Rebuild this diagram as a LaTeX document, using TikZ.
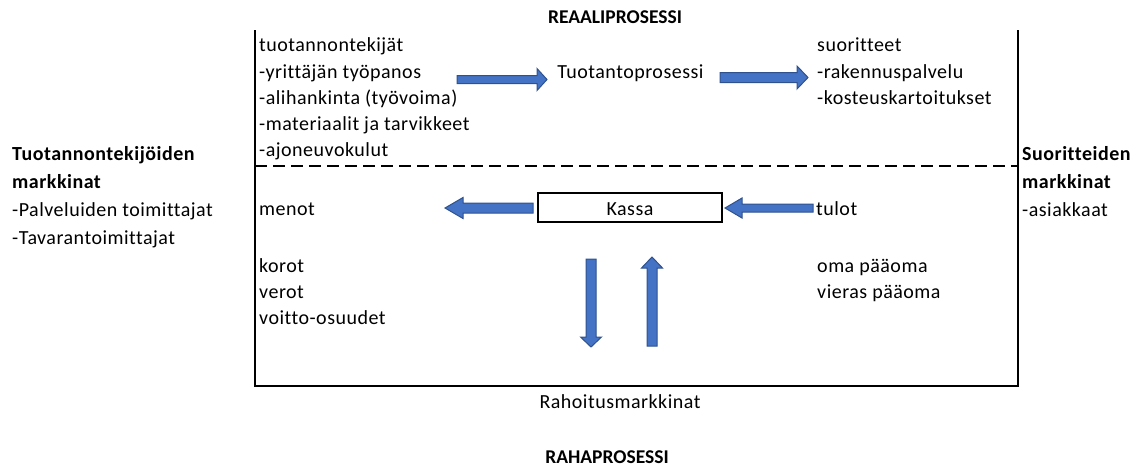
\documentclass[tikz,border=0pt]{standalone}
\usepackage{fontspec}
\setmainfont{Carlito}[LetterSpace=2.5, Ligatures={NoCommon,NoContextual}]
\newfontfamily\titlefont{Carlito}[Ligatures={NoCommon,NoContextual}]
\definecolor{arrowfill}{HTML}{4472C4}
\definecolor{arrowline}{HTML}{2F528F}
\begin{document}
\begin{tikzpicture}[x=1pt,y=-1pt,
  txt/.style={inner sep=0pt, anchor=base west, font=\fontsize{20}{24}\selectfont},
  ctxt/.style={inner sep=0pt, anchor=base, font=\fontsize{20}{24}\selectfont},
  btxt/.style={txt, font=\fontsize{20}{24}\selectfont\bfseries},
  bctxt/.style={ctxt, font=\titlefont\fontsize{19.5}{23}\selectfont\bfseries},
  blockarrow/.style={fill=arrowfill, draw=arrowline, line width=1pt, line join=miter},
  frameline/.style={line width=2pt},
  sepline/.style={line width=1.5pt, dash pattern=on 12pt off 6pt}]
\useasboundingbox (0,0) rectangle (1139,467);

% frame
\coordinate (tl) at (255,30);
\coordinate (bl) at (255,386);
\coordinate (br) at (1018,386);
\coordinate (tr) at (1018,30);
\draw[frameline] (tl) -- (bl) -- (br) -- (tr);
\coordinate (dl) at (255,166);
\coordinate (dr) at (1018,166);
\draw[sepline] (dl) -- (dr);

% titles
\node[bctxt] (reaali) at (615,23.5) {REAALIPROSESSI};
\node[bctxt] (raha) at (607,463.5) {RAHAPROSESSI};
\node[ctxt] (rahoitus) at (620,408) {Rahoitusmarkkinat};

% left column (real process)
\node[txt] (l1) at (259,51.7) {tuotannontekijät};
\node[txt] (l2) at (259,78) {-yrittäjän työpanos};
\node[txt] (l3) at (259,104.3) {-alihankinta (työvoima)};
\node[txt] (l4) at (259,130.6) {-materiaalit ja tarvikkeet};
\node[txt] (l5) at (259,156.9) {-ajoneuvokulut};

\node[ctxt] (prosessi) at (630.5,78) {Tuotantoprosessi};

\node[txt] (r1) at (817,51.7) {suoritteet};
\node[txt] (r2) at (817,78) {-rakennuspalvelu};
\node[txt] (r3) at (817,104.3) {-kosteuskartoitukset};

% markets
\node[btxt] (tm1) at (12,160) {Tuotannontekijöiden};
\node[btxt] (tm2) at (12,188) {markkinat};
\node[txt] (tm3) at (12,216) {-Palveluiden toimittajat};
\node[txt] (tm4) at (12,244) {-Tavarantoimittajat};

\node[btxt] (sm1) at (1022,160) {Suoritteiden};
\node[btxt] (sm2) at (1022,188) {markkinat};
\node[txt] (sm3) at (1022,216) {-asiakkaat};

% money process
\node[draw, line width=1.5pt, minimum width=184pt, minimum height=29pt, inner sep=0pt] (kassa) at (630,207.5) {};
\node[ctxt] (kassatxt) at (630,215) {Kassa};
\node[txt] (menot) at (259,215) {menot};
\node[txt] (tulot) at (816,215) {tulot};

\node[txt] (k1) at (259,272) {korot};
\node[txt] (k2) at (259,298.2) {verot};
\node[txt] (k3) at (259,324.4) {voitto-osuudet};

\node[txt] (o1) at (817,272) {oma pääoma};
\node[txt] (o2) at (817,298.2) {vieras pääoma};

% block arrows
% right arrow 1
\draw[blockarrow] (457,75.5) -- (537,75.5) -- (537,68.5) -- (547,79.5) -- (537,90.5) -- (537,83.5) -- (457,83.5) -- cycle;
% right arrow 2
\draw[blockarrow] (720,72.5) -- (797,72.5) -- (797,66) -- (808,77.5) -- (797,89) -- (797,82.5) -- (720,82.5) -- cycle;
% left arrow (menot)
\draw[blockarrow] (533,203) -- (463,203) -- (463,197.5) -- (445,208) -- (463,218.5) -- (463,213) -- (533,213) -- cycle;
% left arrow (tulot)
\draw[blockarrow] (813,204) -- (742,204) -- (742,198) -- (725,208) -- (742,218) -- (742,212) -- (813,212) -- cycle;
% down arrow
\draw[blockarrow] (586,259) -- (586,337) -- (580.5,337) -- (591,347) -- (601.5,337) -- (596,337) -- (596,259) -- cycle;
% up arrow
\draw[blockarrow] (647,346) -- (647,268) -- (641.5,268) -- (652,257) -- (662.5,268) -- (657,268) -- (657,346) -- cycle;
\end{tikzpicture}
\end{document}
